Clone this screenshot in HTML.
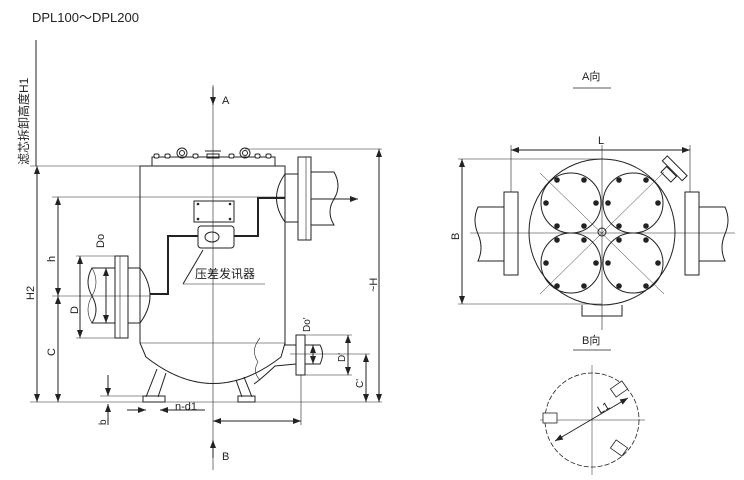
<!DOCTYPE html>
<html><head><meta charset="utf-8"><style>
html,body{margin:0;padding:0;background:#fff;}
svg{display:block;}
text{font-family:"Liberation Sans","Noto Sans CJK SC",sans-serif;fill:#222;}
</style></head><body>
<svg width="744" height="480" viewBox="0 0 744 480" xmlns="http://www.w3.org/2000/svg">
<defs>
<marker id="ar" markerWidth="8" markerHeight="6" refX="8" refY="3" orient="auto-start-reverse" markerUnits="userSpaceOnUse"><path d="M0,0 L8,3 L0,6 Z" fill="#222"/></marker>
</defs>
<text x="32" y="22" font-size="13">DPL100～DPL200</text>
<text transform="translate(28,165) rotate(-90)" font-size="12">滤芯拆卸高度H1</text>

<g stroke="#222" stroke-width="1" fill="none">
<line x1="36" y1="40" x2="36" y2="166"/>
<line x1="213" y1="85" x2="213" y2="470" stroke-width="0.6"/>
<line x1="213" y1="87" x2="213" y2="105" marker-end="url(#ar)"/>
<line x1="213" y1="458" x2="213" y2="440" marker-end="url(#ar)"/>
<rect x="152" y="157" width="123" height="9"/>
<g fill="#fff">
<rect x="154" y="154" width="5" height="4" rx="1.5"/><rect x="165" y="154" width="5" height="4" rx="1.5"/><rect x="193" y="154" width="5" height="4" rx="1.5"/><rect x="229" y="154" width="5" height="4" rx="1.5"/><rect x="255" y="154" width="5" height="4" rx="1.5"/><rect x="266" y="154" width="5" height="4" rx="1.5"/>
</g>
<path d="M140,166 L140,343 L146,357 Q213,410 281,357 L285,343 L285,166 Z"/>
<line x1="140" y1="343" x2="285" y2="343" stroke-width="0.6"/>
<circle cx="182" cy="153" r="5"/><circle cx="182" cy="153" r="2.5"/>
<circle cx="245" cy="153" r="5"/><circle cx="245" cy="153" r="2.5"/>
<rect x="207" y="154" width="12" height="4"/>
<line x1="205" y1="151" x2="221" y2="151"/>
<rect x="194" y="201" width="40" height="21"/>
<g fill="#222" stroke="none"><circle cx="198" cy="204" r="1.3"/><circle cx="230" cy="204" r="1.3"/><circle cx="198" cy="219" r="1.3"/><circle cx="230" cy="219" r="1.3"/></g>
<rect x="198" y="226" width="36" height="22" rx="3"/>
<ellipse cx="212" cy="237" rx="7" ry="5"/>
<path d="M198,236 L168,236 L168,294 L150,294" stroke-width="2"/>
<path d="M234,236 L258,236 L258,198 L285,198" stroke-width="2"/>
<line x1="203" y1="250" x2="183" y2="284"/>
<line x1="183" y1="284" x2="265" y2="284" stroke-width="0.6"/>
<path d="M140,268 Q160,296 140,323 L128,323 L128,268 Z"/>
<rect x="115" y="256" width="13" height="82"/>
<line x1="120" y1="256" x2="120" y2="338" stroke-width="0.6"/>
<path d="M115,268 L92,268 Q84,282 92,296 Q100,310 92,323 L115,323"/>
<path d="M92,268 Q100,282 92,296 Q84,310 92,323" stroke-width="0.6"/>
<path d="M285,174 Q268,198 285,222 L298,222 L298,174 Z"/>
<rect x="298" y="157" width="13" height="83"/>
<line x1="306" y1="157" x2="306" y2="240" stroke-width="0.6"/>
<path d="M311,172 L334,172 Q342,186 334,199 Q326,212 334,225 L311,225"/>
<line x1="311" y1="199" x2="358" y2="199" marker-end="url(#ar)"/>
<path d="M285,343 L285,345 L296,345 M296,364 L275,366 Q260,380 254,384"/>
<rect x="296" y="335" width="9" height="40"/>
<path d="M305,345 L320,345 Q325,354 320,364 L305,364"/>
<path d="M260,338 Q250,350 258,362 Q252,372 260,380" stroke-width="0.6"/>
<path d="M157,369 L146,397 M166,373 L158,397"/>
<rect x="143" y="396" width="22" height="6"/>
<path d="M236,380 L242,397 M244,377 L252,397"/>
<rect x="238" y="396" width="17" height="6"/>
<line x1="30" y1="402" x2="382" y2="402" stroke-width="0.6"/>
<line x1="30" y1="166" x2="140" y2="166" stroke-width="0.6"/>
<line x1="37" y1="166" x2="37" y2="402" marker-start="url(#ar)" marker-end="url(#ar)"/>
<line x1="52" y1="197" x2="285" y2="197" stroke-width="0.6"/>
<line x1="58" y1="197" x2="58" y2="296" marker-start="url(#ar)" marker-end="url(#ar)"/>
<line x1="58" y1="296" x2="58" y2="402" marker-start="url(#ar)" marker-end="url(#ar)"/>
<line x1="52" y1="296" x2="150" y2="296" stroke-width="0.6"/>
<line x1="76" y1="256" x2="115" y2="256" stroke-width="0.6"/>
<line x1="76" y1="338" x2="115" y2="338" stroke-width="0.6"/>
<line x1="80" y1="256" x2="80" y2="338" marker-start="url(#ar)" marker-end="url(#ar)"/>
<line x1="106" y1="268" x2="106" y2="323" marker-start="url(#ar)" marker-end="url(#ar)"/>
<line x1="245" y1="149" x2="382" y2="149" stroke-width="0.6"/>
<line x1="379" y1="149" x2="379" y2="402" marker-start="url(#ar)" marker-end="url(#ar)"/>
<line x1="305" y1="335" x2="352" y2="335" stroke-width="0.6"/>
<line x1="305" y1="375" x2="352" y2="375" stroke-width="0.6"/>
<line x1="348" y1="335" x2="348" y2="375" marker-start="url(#ar)" marker-end="url(#ar)"/>
<line x1="313" y1="345" x2="313" y2="364" marker-start="url(#ar)" marker-end="url(#ar)"/>
<line x1="290" y1="354" x2="370" y2="354" stroke-width="0.6"/>
<line x1="366" y1="354" x2="366" y2="402" marker-start="url(#ar)" marker-end="url(#ar)"/>
<line x1="301" y1="375" x2="301" y2="425" stroke-width="0.6"/>
<line x1="213" y1="421" x2="301" y2="421" marker-start="url(#ar)" marker-end="url(#ar)"/>
<line x1="108" y1="375" x2="108" y2="396" marker-end="url(#ar)"/>
<line x1="108" y1="425" x2="108" y2="404" marker-end="url(#ar)"/>
<line x1="100" y1="396" x2="145" y2="396" stroke-width="0.6"/>
<line x1="127" y1="410" x2="146" y2="410" marker-end="url(#ar)"/>
<line x1="205" y1="410" x2="160" y2="410" marker-end="url(#ar)"/>
</g>
<text x="222" y="104" font-size="11">A</text>
<text x="222" y="460" font-size="11">B</text>
<text x="195" y="278" font-size="12">压差发讯器</text>
<text transform="translate(34,300) rotate(-90)" font-size="11">H2</text>
<text transform="translate(55,262) rotate(-90)" font-size="11">h</text>
<text transform="translate(55,356) rotate(-90)" font-size="11">C</text>
<text transform="translate(78,314) rotate(-90)" font-size="11">D</text>
<text transform="translate(104,248) rotate(-90)" font-size="11">Do</text>
<text transform="translate(377,292) rotate(-90)" font-size="11">~H</text>
<text transform="translate(310,332) rotate(-90)" font-size="10">Do'</text>
<text transform="translate(345,362) rotate(-90)" font-size="10">D'</text>
<text transform="translate(363,388) rotate(-90)" font-size="10">C'</text>
<text transform="translate(106,425) rotate(-90)" font-size="10">b</text>
<text x="175" y="410" font-size="11">n-d1</text>

<text x="582" y="80" font-size="11">A向</text>
<line x1="573" y1="88" x2="611" y2="88" stroke="#222" stroke-width="0.8"/>
<g stroke="#222" stroke-width="1" fill="none">
<path d="M518,207 L478,207 Q472,220 478,234 Q484,248 478,261 L518,261" fill="#fff"/>
<rect x="504" y="192" width="14" height="83" fill="#fff"/>
<path d="M685,207 L725,207 Q731,220 725,234 Q719,248 725,261 L685,261" fill="#fff"/>
<rect x="685" y="192" width="14" height="83" fill="#fff"/>
<path d="M582,305 L582,316 L622,316 L622,305"/>
<g transform="rotate(45 668 175)"><rect x="661" y="170" width="14" height="8"/><rect x="654" y="162" width="28" height="7"/></g>
<circle cx="602" cy="232" r="73" fill="#fff"/>
<line x1="602" y1="145" x2="602" y2="330" stroke-width="0.6"/>
<line x1="470" y1="233" x2="735" y2="233" stroke-width="0.6"/>
<circle cx="571" cy="203" r="30"/><circle cx="633" cy="203" r="30"/>
<circle cx="571" cy="263" r="30"/><circle cx="633" cy="263" r="30"/>
<circle cx="602" cy="232" r="4"/>
<line x1="511" y1="150" x2="690" y2="150" marker-start="url(#ar)" marker-end="url(#ar)"/>
<line x1="511" y1="145" x2="511" y2="192" stroke-width="0.6"/>
<line x1="690" y1="145" x2="690" y2="192" stroke-width="0.6"/>
<line x1="462" y1="159" x2="462" y2="304" marker-start="url(#ar)" marker-end="url(#ar)"/>
<line x1="458" y1="159" x2="602" y2="159" stroke-width="0.6"/>
<line x1="458" y1="304" x2="602" y2="304" stroke-width="0.6"/>
<line x1="540" y1="173" x2="664" y2="294" stroke-width="0.5"/>
<line x1="664" y1="172" x2="540" y2="294" stroke-width="0.5"/>
</g>
<g fill="#222">
<circle cx="557" cy="180" r="2.8"/><circle cx="584" cy="180" r="2.8"/><circle cx="546" cy="203" r="2.8"/><circle cx="596" cy="203" r="2.8"/><circle cx="557" cy="226" r="2.8"/><circle cx="584" cy="226" r="2.8"/>
<circle cx="619" cy="180" r="2.8"/><circle cx="646" cy="180" r="2.8"/><circle cx="608" cy="203" r="2.8"/><circle cx="658" cy="203" r="2.8"/><circle cx="619" cy="226" r="2.8"/><circle cx="646" cy="226" r="2.8"/>
<circle cx="557" cy="240" r="2.8"/><circle cx="584" cy="240" r="2.8"/><circle cx="546" cy="263" r="2.8"/><circle cx="596" cy="263" r="2.8"/><circle cx="557" cy="286" r="2.8"/><circle cx="584" cy="286" r="2.8"/>
<circle cx="619" cy="240" r="2.8"/><circle cx="646" cy="240" r="2.8"/><circle cx="608" cy="263" r="2.8"/><circle cx="658" cy="263" r="2.8"/><circle cx="619" cy="286" r="2.8"/><circle cx="646" cy="286" r="2.8"/>
</g>
<text x="598" y="144" font-size="11">L</text>
<text transform="translate(459,240) rotate(-90)" font-size="11">B</text>

<text x="582" y="344" font-size="11">B向</text>
<line x1="573" y1="350" x2="611" y2="350" stroke="#222" stroke-width="0.8"/>
<g stroke="#222" stroke-width="0.8" fill="none">
<circle cx="592" cy="420" r="47" stroke-dasharray="5,2"/>
<line x1="592" y1="365" x2="592" y2="475" stroke-width="0.5"/>
<line x1="540" y1="420" x2="645" y2="420" stroke-width="0.5"/>
<line x1="555" y1="441" x2="628" y2="398" stroke-width="1" marker-start="url(#ar)" marker-end="url(#ar)"/>
<rect x="543" y="413" width="14" height="10" fill="#fff"/>
<rect x="612" y="384" width="14" height="10" fill="#fff" transform="rotate(-35 619 389)"/>
<rect x="612" y="443" width="14" height="10" fill="#fff" transform="rotate(35 619 448)"/>
</g>
<text transform="translate(600,414) rotate(-30)" font-size="11">L1</text>
</svg>
</body></html>
